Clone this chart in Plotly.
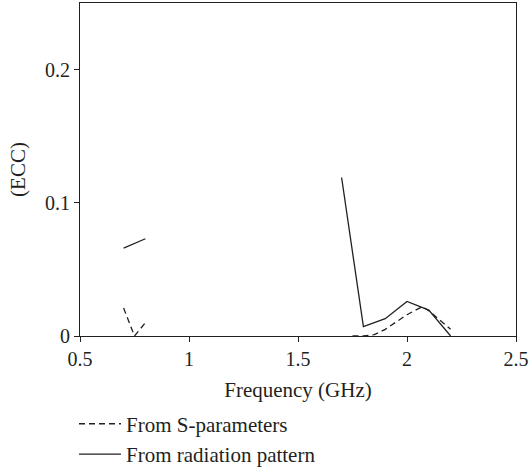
import plotly.graph_objects as go

# Data (None marks gaps between measured bands)
freq_s = [0.7, 0.75, 0.8, None, 1.75, 1.8, 1.85, 1.9, 2.0, 2.07, 2.1, 2.2]
ecc_s = [0.021, 0.0, 0.010, None, 0.0, 0.0, 0.001, 0.005, 0.016, 0.022, 0.019, 0.005]

freq_r = [0.7, 0.8, None, 1.7, 1.8, 1.9, 2.0, 2.1, 2.2]
ecc_r = [0.066, 0.073, None, 0.119, 0.007, 0.013, 0.026, 0.0195, 0.0]

x_ticks = [0.5, 1, 1.5, 2, 2.5]
x_ticklabels = ["0.5", "1", "1.5", "2", "2.5"]
y_ticks = [0, 0.1, 0.2]
y_ticklabels = ["0", "0.1", "0.2"]

font_family = "Liberation Serif"
ink = "#231f20"

fig = go.Figure()
fig.add_trace(go.Scatter(
    x=freq_s, y=ecc_s, mode="lines", name="From S-parameters",
    line=dict(color=ink, width=1.3, dash="6px,4px"), connectgaps=False))
fig.add_trace(go.Scatter(
    x=freq_r, y=ecc_r, mode="lines", name="From radiation pattern",
    line=dict(color=ink, width=1.3), connectgaps=False))

axis_common = dict(
    showline=True, linecolor=ink, linewidth=1.2, mirror=True,
    ticks="outside", ticklen=5, tickcolor=ink, tickwidth=1,
    showgrid=False, zeroline=False, automargin=False,
    tickfont=dict(family=font_family, size=20, color=ink),
)

fig.update_layout(
    width=529, height=468,
    margin=dict(l=80, r=13, t=3, b=132, autoexpand=False),
    paper_bgcolor="white", plot_bgcolor="white",
    font=dict(family=font_family, size=20, color=ink),
    xaxis=dict(range=[0.5, 2.5], tickvals=x_ticks, ticktext=x_ticklabels,
               title=dict(text="Frequency (GHz)", font=dict(family=font_family, size=21, color=ink), standoff=13),
               **axis_common),
    yaxis=dict(range=[0, 0.25], tickvals=y_ticks, ticktext=y_ticklabels,
               title=dict(text="(ECC)", font=dict(family=font_family, size=21, color=ink), standoff=13),
               **axis_common),
    showlegend=True,
    legend=dict(x=-0.0138, y=-0.203, xanchor="left", yanchor="top",
                orientation="v", font=dict(family=font_family, size=21, color=ink),
                bgcolor="rgba(0,0,0,0)", tracegroupgap=0, itemwidth=42),
)

fig.write_html("out.html", config={"displayModeBar": False},
               post_script="document.body.style.margin='0';document.body.style.padding='0';")
